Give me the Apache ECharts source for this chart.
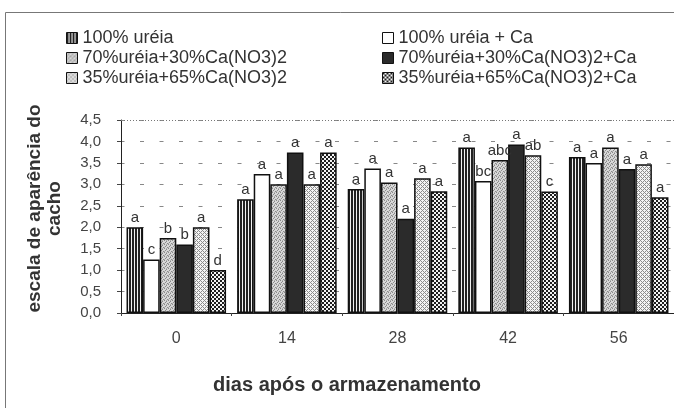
<!DOCTYPE html>
<html>
<head>
<meta charset="utf-8">
<script src="https://cdn.jsdelivr.net/npm/echarts@6/dist/echarts.min.js"></script>
<style>
html,body{margin:0;padding:0;background:#fff;}
#c{width:674px;height:408px;}
</style>
</head>
<body>
<div id="c"></div>
<script>
// ---- data ----
const categories = ['0', '14', '28', '42', '56'];
const seriesNames = [
  '100% uréia',
  '100% uréia + Ca',
  '70%uréia+30%Ca(NO3)2',
  '70%uréia+30%Ca(NO3)2+Ca',
  '35%uréia+65%Ca(NO3)2',
  '35%uréia+65%Ca(NO3)2+Ca'
];
const ureia100      = [2.00, 2.65, 2.89, 3.86, 3.64];
const ureia100Ca    = [1.25, 3.24, 3.37, 3.08, 3.50];
const ureia70       = [1.75, 3.00, 3.04, 3.57, 3.86];
const ureia70Ca     = [1.60, 3.74, 2.20, 3.93, 3.36];
const ureia35       = [2.00, 3.00, 3.14, 3.68, 3.47];
const ureia35Ca     = [1.00, 3.74, 2.84, 2.83, 2.70];
const letters100    = ['a', 'a', 'a', 'a', 'a'];
const letters100Ca  = ['c', 'a', 'a', 'bc', 'a'];
const letters70     = ['b', 'a', 'a', 'abc', 'a'];
const letters70Ca   = ['b', 'a', 'a', 'a', 'a'];
const letters35     = ['a', 'a', 'a', 'ab', 'a'];
const letters35Ca   = ['d', 'a', 'a', 'c', 'a'];
const yTicks = { min: 0, max: 4.5, interval: 0.5 };

// ---- patterns ----
function makePattern(w, h, draw) {
  const c = document.createElement('canvas');
  c.width = w; c.height = h;
  const ctx = c.getContext('2d');
  draw(ctx);
  return { image: c, repeat: 'repeat' };
}
const patStripes = makePattern(3, 4, ctx => {
  ctx.fillStyle = '#f2f2f2'; ctx.fillRect(0, 0, 3, 4);
  ctx.fillStyle = '#222'; ctx.fillRect(0, 0, 2, 4);
});
const patWhite = '#ffffff';
const patFine = makePattern(4, 4, ctx => {
  ctx.fillStyle = '#d8d8d8'; ctx.fillRect(0, 0, 4, 4);
  ctx.fillStyle = '#8a8a8a';
  ctx.fillRect(0, 0, 1, 1); ctx.fillRect(2, 1, 1, 1);
  ctx.fillRect(1, 2, 1, 1); ctx.fillRect(3, 3, 1, 1);
  ctx.fillStyle = '#b0b0b0';
  ctx.fillRect(2, 0, 1, 1); ctx.fillRect(0, 3, 1, 1);
});
const patSolid = '#2b2b2b';
const patLight = makePattern(4, 4, ctx => {
  ctx.fillStyle = '#f4f4f4'; ctx.fillRect(0, 0, 4, 4);
  ctx.fillStyle = '#8c8c8c';
  ctx.fillRect(0, 0, 1, 1); ctx.fillRect(2, 2, 1, 1);
  ctx.fillRect(1, 1, 1, 1); ctx.fillRect(3, 3, 1, 1);
  ctx.fillRect(3, 1, 1, 1); ctx.fillRect(1, 3, 1, 1);
});
const patDark = makePattern(4, 4, ctx => {
  ctx.fillStyle = '#f4f4f4'; ctx.fillRect(0, 0, 4, 4);
  ctx.fillStyle = '#1e1e1e';
  ctx.fillRect(0, 0, 2, 2); ctx.fillRect(2, 2, 2, 2);
});

const FONT = "'Liberation Sans', Arial, sans-serif";
const valueSets = [ureia100, ureia100Ca, ureia70, ureia70Ca, ureia35, ureia35Ca];
const letterSets = [letters100, letters100Ca, letters70, letters70Ca, letters35, letters35Ca];
const fills = [patStripes, patWhite, patFine, patSolid, patLight, patDark];

const series = valueSets.map((vals, i) => ({
  name: seriesNames[i],
  type: 'bar',
  data: vals,
  barGap: '0%',
  barCategoryGap: '10%',
  itemStyle: { color: fills[i], borderColor: '#111', borderWidth: 1.5 },
  label: {
    show: true,
    position: 'top',
    distance: 2,
    color: '#333',
    fontSize: 15,
    fontFamily: FONT,
    formatter: p => letterSets[i][p.dataIndex]
  },
  emphasis: { disabled: true },
  animation: false
}));
series[0].markLine = {
  silent: true,
  symbol: 'none',
  label: { show: false },
  lineStyle: { color: '#777', type: [1, 2], width: 1 },
  data: [{ yAxis: yTicks.max }]
};

const legendBase = {
  orient: 'vertical', top: 23,
  icon: 'rect',
  itemWidth: 11, itemHeight: 11, itemGap: 0,
  itemStyle: { borderWidth: 1 },
  textStyle: { fontSize: 18, color: '#333', fontFamily: FONT, lineHeight: 20 },
  selectedMode: false
};

const chart = echarts.init(document.getElementById('c'), null, { renderer: 'canvas' });
chart.setOption({
  animation: false,
  backgroundColor: '#fff',
  textStyle: { fontFamily: FONT },
  graphic: [{
    type: 'rect',
    shape: { x: 5.5, y: 12.5, width: 720, height: 430 },
    style: { fill: 'none', stroke: '#777', lineWidth: 1 },
    silent: true
  }],
  title: [{
    text: 'dias após o armazenamento',
    left: 342, top: 370, textAlign: 'center',
    textStyle: { fontSize: 20, fontWeight: 'bold', color: '#333', fontFamily: FONT }
  }],
  legend: [
    Object.assign({}, legendBase, { data: [seriesNames[0], seriesNames[2], seriesNames[4]], left: 61 }),
    Object.assign({}, legendBase, { data: [seriesNames[1], seriesNames[3], seriesNames[5]], left: 377 })
  ],
  grid: { left: 121, top: 120, width: 555, bottom: 95, containLabel: false },
  xAxis: {
    type: 'category',
    data: categories,
    axisLine: { lineStyle: { color: '#222', width: 1 } },
    axisTick: { show: true, length: 3, lineStyle: { color: '#444' } },
    axisLabel: { fontSize: 16, color: '#444', margin: 18, fontFamily: FONT }
  },
  yAxis: {
    type: 'value',
    min: yTicks.min, max: yTicks.max, interval: yTicks.interval,
    name: 'escala de aparência do\ncacho',
    nameLocation: 'middle',
    nameRotate: 90,
    nameGap: 56,
    nameTextStyle: { fontSize: 19, fontWeight: 'bold', color: '#333', fontFamily: FONT, lineHeight: 20, align: 'center', padding: [0, 0, 0, 16] },
    axisLine: { show: true, lineStyle: { color: '#222', width: 1 } },
    axisTick: { show: true, length: 4, lineStyle: { color: '#444' } },
    axisLabel: { fontSize: 15, color: '#444', margin: 20, fontFamily: FONT,
      formatter: v => v.toFixed(1).replace('.', ',') },
    splitLine: { show: true, lineStyle: { color: '#888', type: [4, 15.5], dashOffset: -19, width: 1 } }
  },
  series: series
});
</script>
</body>
</html>
